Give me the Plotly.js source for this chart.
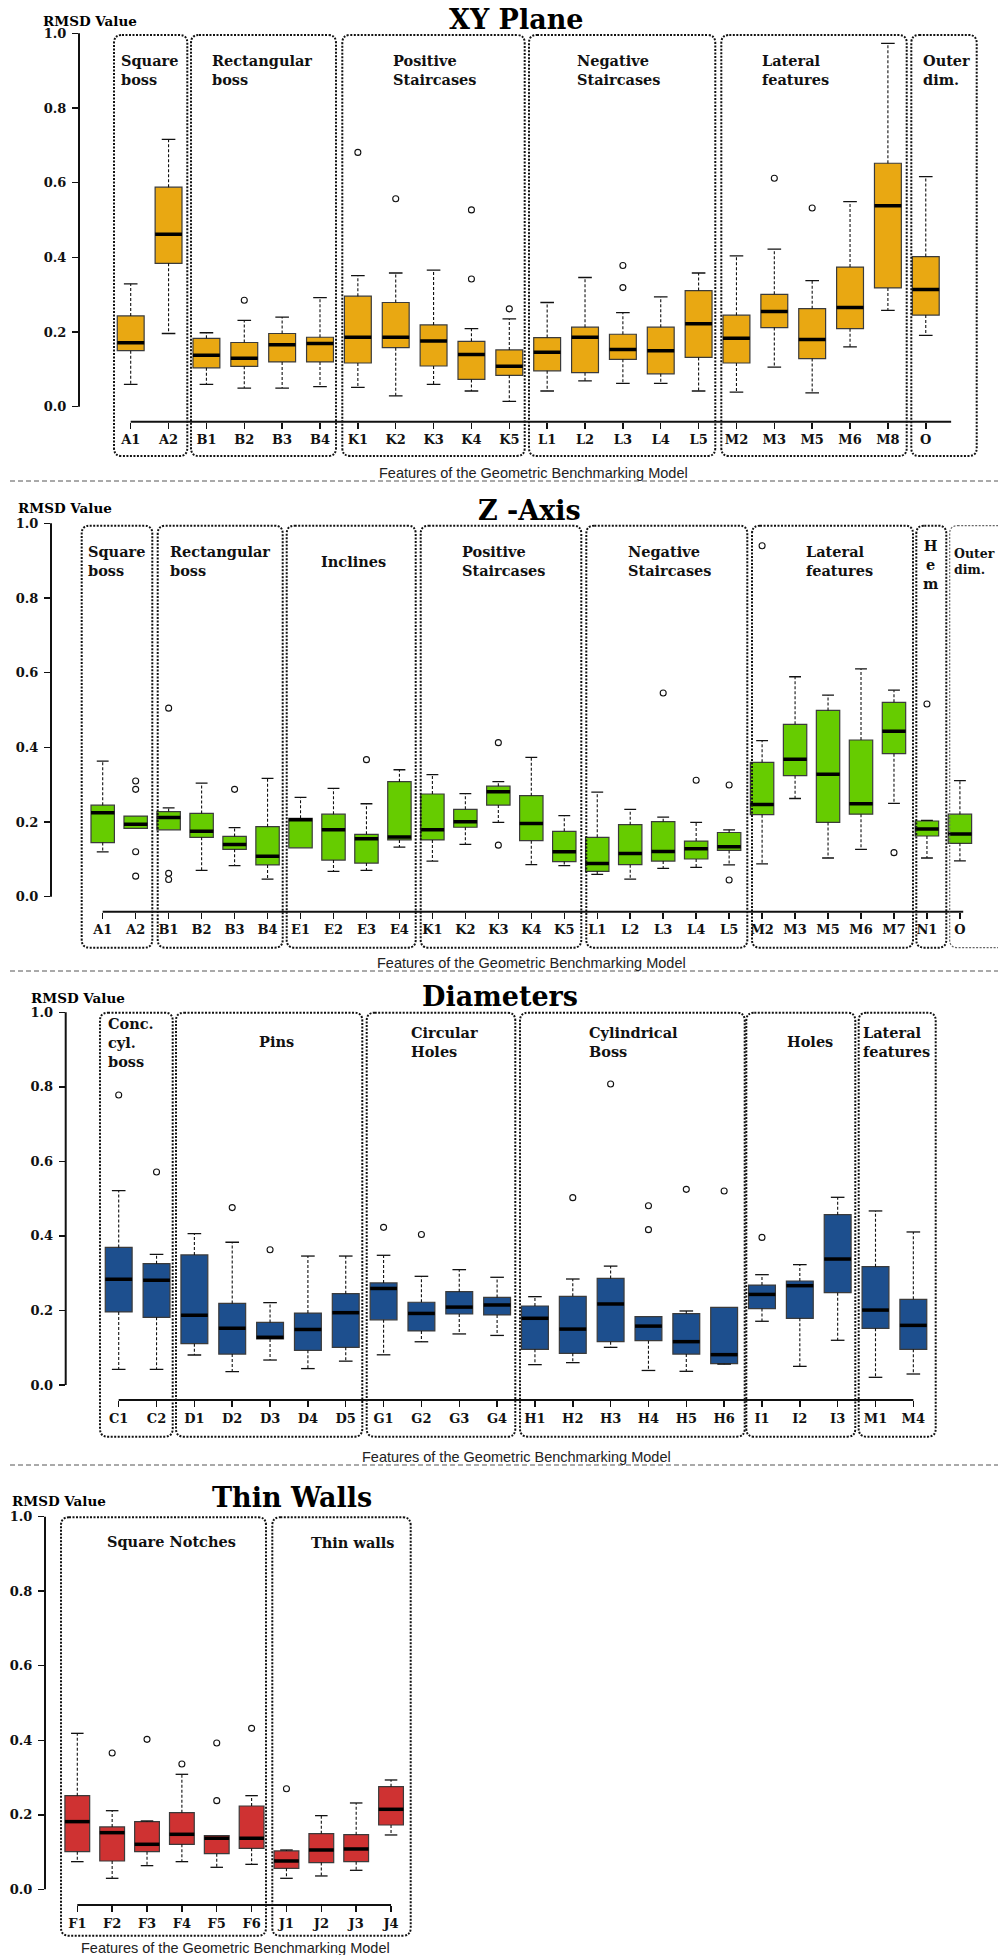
<!DOCTYPE html>
<html><head><meta charset="utf-8">
<script src="https://cdn.plot.ly/plotly-3.0.1.min.js"></script>
<style>html,body{margin:0;padding:0;background:#fff}#chart{width:998px;height:1955px}</style>
</head><body><div id="chart"></div>
<script>
// ---------- DATA ----------
// XY Plane
const xyCats  = ['A1','A2','B1','B2','B3','B4','K1','K2','K3','K4','K5','L1','L2','L3','L4','L5','M2','M3','M5','M6','M8','O'];
const xyUpper = [0.329,0.716,0.198,0.231,0.240,0.292,0.351,0.358,0.366,0.209,0.235,0.279,0.346,0.252,0.294,0.358,0.404,0.422,0.3375,0.549,0.973,0.616];
const xyQ3    = [0.243,0.588,0.183,0.172,0.196,0.186,0.296,0.279,0.219,0.175,0.152,0.185,0.213,0.194,0.213,0.311,0.245,0.301,0.2625,0.374,0.652,0.402];
const xyMed   = [0.171,0.462,0.1375,0.130,0.166,0.169,0.186,0.186,0.176,0.140,0.108,0.146,0.186,0.153,0.150,0.222,0.183,0.255,0.180,0.266,0.538,0.314];
const xyQ1    = [0.150,0.384,0.104,0.108,0.120,0.120,0.117,0.158,0.109,0.073,0.084,0.096,0.091,0.127,0.088,0.132,0.117,0.212,0.129,0.209,0.318,0.2455];
const xyLower = [0.060,0.196,0.060,0.050,0.050,0.054,0.052,0.029,0.060,0.042,0.014,0.042,0.069,0.0625,0.0625,0.042,0.039,0.106,0.037,0.160,0.258,0.191];
const xyOut   = [[],[],[],[0.285],[],[],[0.681],[0.557],[],[0.527,0.342],[0.262],[],[],[0.378,0.319],[],[],[],[0.612],[0.532],[],[],[]];

// Z-Axis
const zCats  = ['A1','A2','B1','B2','B3','B4','E1','E2','E3','E4','K1','K2','K3','K4','K5','L1','L2','L3','L4','L5','M2','M3','M5','M6','M7','N1','O'];
const zUpper = [0.363,0.216,0.238,0.304,0.185,0.317,0.266,0.290,0.249,0.340,0.327,0.276,0.308,0.373,0.217,0.280,0.234,0.213,0.199,0.179,0.418,0.589,0.540,0.610,0.553,0.2045,0.311];
const zQ3    = [0.245,0.216,0.228,0.223,0.1615,0.1875,0.210,0.221,0.167,0.308,0.275,0.234,0.296,0.2705,0.175,0.159,0.193,0.201,0.149,0.172,0.360,0.4616,0.499,0.4196,0.5205,0.2027,0.221];
const zMed   = [0.225,0.194,0.212,0.175,0.140,0.108,0.206,0.179,0.155,0.160,0.179,0.201,0.281,0.196,0.1205,0.089,0.116,0.121,0.1285,0.134,0.247,0.368,0.328,0.249,0.443,0.181,0.168];
const zQ1    = [0.145,0.183,0.179,0.159,0.127,0.085,0.131,0.098,0.090,0.152,0.152,0.186,0.2455,0.150,0.094,0.068,0.0857,0.0955,0.101,0.124,0.2196,0.324,0.199,0.221,0.383,0.1625,0.143];
const zLower = [0.120,0.183,0.179,0.0705,0.083,0.047,0.131,0.068,0.0705,0.133,0.0955,0.140,0.199,0.0857,0.083,0.060,0.047,0.076,0.0786,0.085,0.088,0.263,0.1036,0.127,0.250,0.1036,0.096];
const zOut   = [[],[0.310,0.2875,0.1205,0.055],[0.505,0.0625,0.046],[],[0.2875],[],[],[],[0.367],[],[],[],[0.4125,0.138],[],[],[],[],[0.5455],[0.312],[0.299,0.0446],[0.940],[],[],[],[0.118],[0.516],[]];

// Diameters
const dCats  = ['C1','C2','D1','D2','D3','D4','D5','G1','G2','G3','G4','H1','H2','H3','H4','H5','H6','I1','I2','I3','M1','M4'];
const dUpper = [0.5215,0.3506,0.406,0.383,0.221,0.346,0.346,0.348,0.2916,0.3095,0.289,0.237,0.2844,0.319,0.1834,0.1986,0.2084,0.296,0.323,0.5036,0.467,0.4106];
const dQ3    = [0.369,0.3256,0.349,0.219,0.168,0.193,0.245,0.274,0.222,0.2504,0.235,0.212,0.238,0.286,0.1834,0.1914,0.2084,0.268,0.279,0.457,0.3175,0.230];
const dMed   = [0.2835,0.281,0.187,0.152,0.128,0.149,0.194,0.259,0.192,0.209,0.2147,0.179,0.150,0.2174,0.158,0.1163,0.0814,0.243,0.2665,0.338,0.201,0.160];
const dQ1    = [0.196,0.1816,0.111,0.083,0.1234,0.093,0.101,0.175,0.145,0.1905,0.188,0.0957,0.085,0.1163,0.119,0.083,0.0572,0.205,0.179,0.2478,0.152,0.0957];
const dLower = [0.042,0.042,0.0805,0.036,0.067,0.044,0.064,0.081,0.116,0.137,0.133,0.0546,0.060,0.101,0.039,0.0367,0.056,0.171,0.050,0.120,0.0206,0.0295];
const dOut   = [[0.778],[0.5716],[],[0.476],[0.363],[],[],[0.423],[0.404],[],[],[],[0.5027],[0.8077],[0.481,0.4168],[0.525],[0.5206],[0.396],[],[],[],[]];

// Thin Walls
const tCats  = ['F1','F2','F3','F4','F5','F6','J1','J2','J3','J4'];
const tUpper = [0.4186,0.211,0.1834,0.3086,0.144,0.2513,0.1055,0.1977,0.2317,0.2934];
const tQ3    = [0.2513,0.1673,0.1816,0.2057,0.144,0.2236,0.1029,0.1494,0.1467,0.2755];
const tMed   = [0.1816,0.152,0.1208,0.1476,0.137,0.137,0.076,0.1055,0.1082,0.2147];
const tQ1    = [0.101,0.076,0.101,0.1208,0.0957,0.110,0.0564,0.0716,0.0742,0.1726];
const tLower = [0.0742,0.0295,0.0635,0.0742,0.059,0.067,0.0295,0.0358,0.051,0.1458];
const tOut   = [[],[0.366],[0.4025],[0.3363],[0.3927,0.2379],[0.432],[0.270],[],[],[]];

const yTickVals = [0,0.2,0.4,0.6,0.8,1.0];
const yTickText = ['0.0','0.2','0.4','0.6','0.8','1.0'];
const xTitleText = 'Features of the Geometric Benchmarking Model';
const yTitleText = 'RMSD Value';

// ---------- LAYOUT (pixel geometry) ----------
const W = 998, H = 1955;
const SERIF = 'DejaVu Serif, Georgia, serif';
const SANS = 'Liberation Sans, Arial, sans-serif';

const panels = [
  { title:'XY Plane', cats:xyCats, up:xyUpper, q3:xyQ3, med:xyMed, q1:xyQ1, lo:xyLower, out:xyOut,
    color:'#E9A812', axisX:79, y0:406.7, y1:33.3, xline:421.7, first:130.7, sp:37.86, lineExtra:0.67,
    titleX:516, titleY:20, rmsdX:40.7, rmsdY:21, featX:533, featY:473, sepY:481,
    frameTop:35, frameBot:456,
    frames:[[114,187.3],[191,336],[342.3,524.7],[529,715.3],[721.3,906.7],[911.3,976.7]],
    labels:[
      {t:'Square<br>boss', x:119.3, y:69.5, a:'left'},
      {t:'Rectangular<br>boss', x:210, y:69.5, a:'left'},
      {t:'Positive<br>Staircases', x:390.7, y:69.5, a:'left'},
      {t:'Negative<br>Staircases', x:575.3, y:69.5, a:'left'},
      {t:'Lateral<br>features', x:759.7, y:69.5, a:'left'},
      {t:'Outer<br>dim.', x:920.7, y:69.5, a:'left'}
    ]},
  { title:'Z -Axis', cats:zCats, up:zUpper, q3:zQ3, med:zMed, q1:zQ1, lo:zLower, out:zOut,
    color:'#66CC00', axisX:51, y0:896.7, y1:523.3, xline:911.7, first:102.7, sp:32.97, lineExtra:0.1,
    titleX:529, titleY:510, rmsdX:15.7, rmsdY:507.7, featX:531.3, featY:963.3, sepY:971,
    frameTop:525.7, frameBot:947.7,
    frames:[[81.7,152.3],[157.7,282.7],[286.7,415.7],[420.7,581.3],[586.3,747.3],[752,913],[916.3,946.3],[949.7,1012,'light']],
    labels:[
      {t:'Square<br>boss', x:86, y:561.3, a:'left'},
      {t:'Rectangular<br>boss', x:167.7, y:561.3, a:'left'},
      {t:'Inclines', x:353.3, y:561, a:'center'},
      {t:'Positive<br>Staircases', x:460, y:561.3, a:'left'},
      {t:'Negative<br>Staircases', x:625.7, y:561.3, a:'left'},
      {t:'Lateral<br>features', x:804, y:561.3, a:'left'},
      {t:'H<br>e<br>m', x:930.7, y:564.5, a:'center'},
      {t:'Outer<br>dim.', x:951.5, y:561.3, a:'left', size:12.5}
    ]},
  { title:'Diameters', cats:dCats, up:dUpper, q3:dQ3, med:dMed, q1:dQ1, lo:dLower, out:dOut,
    color:'#1D4F8E', axisX:65.7, y0:1385, y1:1012.3, xline:1400, first:118.7, sp:37.84, lineExtra:0,
    titleX:499.5, titleY:996.7, rmsdX:29.3, rmsdY:998.3, featX:516, featY:1457, sepY:1465,
    frameTop:1012.7, frameBot:1436.7,
    frames:[[100,172.7],[176,362.3],[366.7,515.3],[520,744.7],[746.3,855.3],[858.7,935.7]],
    labels:[
      {t:'Conc.<br>cyl.<br>boss', x:106, y:1042, a:'left'},
      {t:'Pins', x:276.7, y:1041.7, a:'center'},
      {t:'Circular<br>Holes', x:409.3, y:1042, a:'left'},
      {t:'Cylindrical<br>Boss', x:587, y:1042, a:'left'},
      {t:'Holes', x:809.7, y:1041.7, a:'center'},
      {t:'Lateral<br>features', x:861.3, y:1042, a:'left'}
    ]},
  { title:'Thin Walls', cats:tCats, up:tUpper, q3:tQ3, med:tMed, q1:tQ1, lo:tLower, out:tOut,
    color:'#CF3232', axisX:45, y0:1889.3, y1:1516.7, xline:1905, first:77.3, sp:34.86, lineExtra:0,
    titleX:292, titleY:1497.3, rmsdX:10, rmsdY:1501, featX:235, featY:1948.3, sepY:null,
    frameTop:1517.3, frameBot:1935.7,
    frames:[[61,266],[272.3,410.7]],
    labels:[
      {t:'Square Notches', x:171, y:1541, a:'center'},
      {t:'Thin walls', x:353.3, y:1542.7, a:'center'}
    ]}
];

const PX = v => v / W;
const PY = v => 1 - v / H;

function roundRect(x0, y0, x1, y1, r) {
  const X = v => PX(v).toFixed(5), Y = v => PY(v).toFixed(5);
  return `M${X(x0+r)},${Y(y0)} L${X(x1-r)},${Y(y0)} Q${X(x1)},${Y(y0)} ${X(x1)},${Y(y0+r)} ` +
         `L${X(x1)},${Y(y1-r)} Q${X(x1)},${Y(y1)} ${X(x1-r)},${Y(y1)} ` +
         `L${X(x0+r)},${Y(y1)} Q${X(x0)},${Y(y1)} ${X(x0)},${Y(y1-r)} ` +
         `L${X(x0)},${Y(y0+r)} Q${X(x0)},${Y(y0)} ${X(x0+r)},${Y(y0)} Z`;
}

const traces = [];
const layout = {
  width: W, height: H, margin: {l:0, r:0, t:0, b:0},
  paper_bgcolor: '#fff', plot_bgcolor: 'rgba(0,0,0,0)',
  showlegend: false, hovermode: false,
  shapes: [], annotations: []
};

const BOXW = 0.71, CAP = 0.18, MEDW = 0.355;

panels.forEach((p, k) => {
  const n = p.cats.length;
  const idx = p.cats.map((_, i) => i);
  const xs = k === 0 ? 'x' : 'x' + (k+1);
  const ys = k === 0 ? 'y' : 'y' + (k+1);
  const xaName = k === 0 ? 'xaxis' : 'xaxis' + (k+1);
  const yaName = k === 0 ? 'yaxis' : 'yaxis' + (k+1);
  const s = p.y0 - p.y1;
  const ymin = -(p.xline - p.y0) / s;
  const ymax = 1.03;

  layout[xaName] = {
    domain: [PX(p.axisX), 1], anchor: ys,
    range: [-(p.first - p.axisX) / p.sp, (W - p.first) / p.sp],
    tickmode: 'array', tickvals: idx, ticktext: p.cats,
    ticks: 'outside', ticklen: 6, tickwidth: 1.5, tickcolor: '#111',
    tickfont: {family: SERIF, size: 13, color: '#111', weight: 'bold'},
    showgrid: false, zeroline: false, showline: false, fixedrange: true
  };
  layout[yaName] = {
    domain: [PY(p.xline), PY(p.y0 - ymax * s)], anchor: xs,
    range: [ymin, ymax],
    tickmode: 'array', tickvals: yTickVals, ticktext: yTickText,
    ticks: 'outside', ticklen: 6, tickwidth: 1.5, tickcolor: '#111',
    tickfont: {family: SERIF, size: 13, color: '#111', weight: 'bold'},
    ticklabelstandoff: 3,
    showgrid: false, zeroline: false, showline: false, fixedrange: true
  };

  // boxes (fences at the box edges; whiskers drawn dashed below)
  traces.push({
    type: 'box', xaxis: xs, yaxis: ys, x: idx,
    q1: p.q1, median: p.med, q3: p.q3, lowerfence: p.q1, upperfence: p.q3,
    width: BOXW, boxpoints: false, whiskerwidth: 0,
    fillcolor: p.color, line: {color: '#3b3b3b', width: 1.2}
  });

  const wx = [], wy = [], cx = [], cy = [], mx = [], my = [], ox = [], oy = [];
  idx.forEach(i => {
    if (p.up[i] > p.q3[i] + 0.001) {
      wx.push(i, i, null); wy.push(p.q3[i], p.up[i], null);
      cx.push(i - CAP, i + CAP, null); cy.push(p.up[i], p.up[i], null);
    }
    if (p.lo[i] < p.q1[i] - 0.001) {
      wx.push(i, i, null); wy.push(p.q1[i], p.lo[i], null);
      cx.push(i - CAP, i + CAP, null); cy.push(p.lo[i], p.lo[i], null);
    }
    mx.push(i - MEDW, i + MEDW, null); my.push(p.med[i], p.med[i], null);
    p.out[i].forEach(v => { ox.push(i); oy.push(v); });
  });
  traces.push({type:'scatter', mode:'lines', xaxis:xs, yaxis:ys, x:wx, y:wy,
    line:{color:'#111', width:1.1, dash:'3px,2px'}});
  traces.push({type:'scatter', mode:'lines', xaxis:xs, yaxis:ys, x:cx, y:cy,
    line:{color:'#111', width:1.3}});
  traces.push({type:'scatter', mode:'lines', xaxis:xs, yaxis:ys, x:mx, y:my,
    line:{color:'#000', width:3.5}});
  traces.push({type:'scatter', mode:'markers', xaxis:xs, yaxis:ys, x:ox, y:oy,
    marker:{symbol:'circle-open', size:6, color:'#111', line:{width:1.1, color:'#111'}}});

  // axis lines (R style, detached)
  layout.shapes.push({type:'line', xref:'paper', yref:ys, x0:PX(p.axisX), x1:PX(p.axisX), y0:0, y1:1,
    line:{color:'#111', width:2}});
  layout.shapes.push({type:'line', xref:xs, yref:'paper', x0:0, x1:n - 1 + p.lineExtra,
    y0:PY(p.xline), y1:PY(p.xline), line:{color:'#111', width:2}});

  p.frames.forEach(f => {
    const light = f[2] === 'light';
    layout.shapes.push({type:'path', xref:'paper', yref:'paper',
      path: roundRect(f[0], p.frameTop, f[1], p.frameBot, 8),
      line:{color: light ? '#666' : '#111', width: light ? 1.2 : 2, dash:'2px,1.5px'}});
  });

  if (p.sepY !== null) {
    layout.shapes.push({type:'line', xref:'paper', yref:'paper', x0:PX(10), x1:1,
      y0:PY(p.sepY), y1:PY(p.sepY), line:{color:'#555', width:1, dash:'5px,3px'}});
  }

  layout.annotations.push({xref:'paper', yref:'paper', x:PX(p.titleX), y:PY(p.titleY),
    xanchor:'center', yanchor:'middle', showarrow:false, text:p.title,
    font:{family:SERIF, size:27, color:'#000', weight:'bold'}});
  layout.annotations.push({xref:'paper', yref:'paper', x:PX(p.rmsdX), y:PY(p.rmsdY),
    xanchor:'left', yanchor:'middle', showarrow:false, text:yTitleText,
    font:{family:SERIF, size:13.5, color:'#000', weight:'bold'}});
  layout.annotations.push({xref:'paper', yref:'paper', x:PX(p.featX), y:PY(p.featY),
    xanchor:'center', yanchor:'middle', showarrow:false, text:xTitleText,
    font:{family:SANS, size:14.5, color:'#222'}});
  p.labels.forEach(l => {
    layout.annotations.push({xref:'paper', yref:'paper', x:PX(l.x), y:PY(l.y),
      xanchor:l.a, yanchor:'middle', align:l.a, showarrow:false, text:l.t,
      font:{family:SERIF, size:l.size || 14.5, color:'#111', weight:'bold'}});
  });
});

Plotly.newPlot('chart', traces, layout, {displayModeBar:false, staticPlot:true});
</script>
</body></html>
